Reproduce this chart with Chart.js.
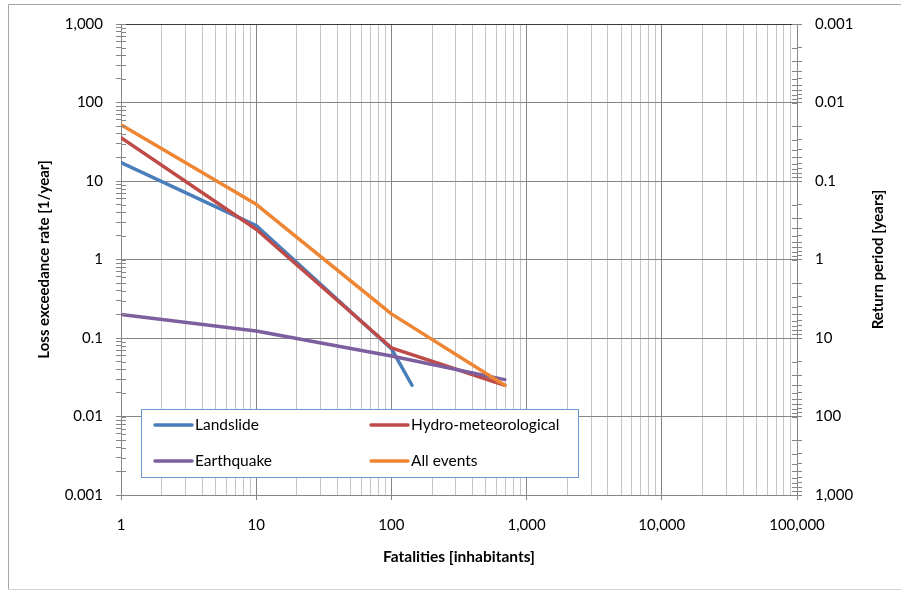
<!DOCTYPE html>
<html>
<head>
<meta charset="utf-8">
<script src="https://cdn.jsdelivr.net/npm/chart.js@4/dist/chart.umd.min.js"></script>
<style>
  body { margin: 0; background: #fff; }
  canvas { display: block; }
</style>
</head>
<body>
<canvas id="myChart" width="901" height="591"></canvas>
<script>
// Fatalities (x) and loss exceedance rate (y) for each curve
var landslideX = [1, 10, 100, 142];
var landslideRate = [17.2, 2.7, 0.073, 0.025];

var hydroX = [1, 10, 100, 690];
var hydroRate = [35.7, 2.43, 0.075, 0.025];

var quakeX = [1, 10, 100, 690];
var quakeRate = [0.2, 0.123, 0.059, 0.0295];

var allX = [1, 10, 100, 690];
var allRate = [52, 5.05, 0.203, 0.025];

// axis tick values and their labels
var fatalityTicks = [1, 10, 100, 1000, 10000, 100000];
var fatalityLabels = ['1', '10', '100', '1,000', '10,000', '100,000'];
var rateTicks = [0.001, 0.01, 0.1, 1, 10, 100, 1000];
var rateLabels = ['0.001', '0.01', '0.1', '1', '10', '100', '1,000'];
var periodLabels = ['0.001', '0.01', '0.1', '1', '10', '100', '1,000']; // 1/rate, same values

var FONT = 'Lato, "Open Sans", sans-serif';
var AXIS = '#868686';
var GRID_MAJOR = '#858585';
var GRID_MINOR = '#c4c4c4';

function pts(xs, ys) {
  var out = [];
  for (var i = 0; i < xs.length; i++) out.push({ x: xs[i], y: ys[i] });
  return out;
}

// majors plus the 2..9 steps inside every decade
function allTicks(majors) {
  var list = [];
  for (var i = 0; i < majors.length; i++) {
    list.push(majors[i]);
    if (i < majors.length - 1) {
      for (var m = 2; m <= 9; m++) list.push(parseFloat((majors[i] * m).toPrecision(6)));
    }
  }
  return list;
}

function setTicks(majors) {
  return function (scale) {
    scale.ticks = allTicks(majors).map(function (v) {
      return { value: v, major: majors.indexOf(v) >= 0 };
    });
  };
}

function labelFor(majors, labels) {
  return function (value) {
    var k = majors.indexOf(value);
    return k >= 0 ? labels[k] : '';
  };
}

// white page with the thin frame round the chart
var framePlugin = {
  id: 'frame',
  beforeDraw: function (chart) {
    var c = chart.ctx;
    c.save();
    c.fillStyle = '#fff';
    c.fillRect(0, 0, chart.width, chart.height);
    c.strokeStyle = '#a6a6a6';
    c.lineWidth = 1;
    c.beginPath();
    c.moveTo(8.5, 589.5);
    c.lineTo(8.5, 4.5);
    c.lineTo(chart.width, 4.5);
    c.stroke();
    c.strokeStyle = '#d4d4d4';
    c.beginPath();
    c.moveTo(8.5, 589.5);
    c.lineTo(chart.width, 589.5);
    c.stroke();
    c.restore();
  }
};

// tick marks cross the vertical axes, draw the inner halves too
var innerTicksPlugin = {
  id: 'innerTicks',
  afterDatasetsDraw: function (chart) {
    var c = chart.ctx;
    c.save();
    c.strokeStyle = AXIS;
    c.lineWidth = 1;
    ['y', 'y2'].forEach(function (id) {
      var s = chart.scales[id];
      var x0 = id === 'y' ? chart.chartArea.left : chart.chartArea.right;
      var dir = id === 'y' ? 1 : -1;
      s.ticks.forEach(function (t) {
        var py = Math.round(s.getPixelForValue(t.value)) + 0.5;
        c.beginPath();
        c.moveTo(x0, py);
        c.lineTo(x0 + dir * 5, py);
        c.stroke();
      });
    });
    c.restore();
  }
};

// right title reads bottom to top like the left one
var rightTitlePlugin = {
  id: 'rightTitle',
  afterDraw: function (chart) {
    var a = chart.chartArea;
    var c = chart.ctx;
    c.save();
    c.translate(878, (a.top + a.bottom) / 2);
    c.rotate(-Math.PI / 2);
    c.font = 'bold 15px ' + FONT;
    c.fillStyle = '#000';
    c.textAlign = 'center';
    c.textBaseline = 'middle';
    c.fillText('Return period [years]', 0, 0);
    c.restore();
  }
};

// boxed legend sitting inside the plot, two columns
var boxLegendPlugin = {
  id: 'boxLegend',
  afterDraw: function (chart) {
    var c = chart.ctx;
    var sets = chart.data.datasets;
    var left = 141.5, top = 409.5, w = 437, h = 68;
    c.save();
    c.fillStyle = '#fff';
    c.fillRect(left, top, w, h);
    c.strokeStyle = '#6f97cf';
    c.lineWidth = 1;
    c.strokeRect(left, top, w, h);
    c.font = '15.5px ' + FONT;
    c.textBaseline = 'middle';
    c.fillStyle = '#000';
    var cols = [155, 371];
    var rows = [425, 461];
    for (var i = 0; i < sets.length; i++) {
      var cx = cols[i % 2], cy = rows[Math.floor(i / 2)];
      c.strokeStyle = sets[i].borderColor;
      c.lineWidth = 3.5;
      c.lineCap = 'round';
      c.beginPath();
      c.moveTo(cx, cy);
      c.lineTo(cx + 37, cy);
      c.stroke();
      c.fillText(sets[i].label, cx + 40, cy);
    }
    c.restore();
  }
};

var ctx = document.getElementById('myChart');

new Chart(ctx, {
  type: 'line',
  data: {
    datasets: [
      { label: 'Landslide', data: pts(landslideX, landslideRate), borderColor: '#4a7ebb', order: 4 },
      { label: 'Hydro-meteorological', data: pts(hydroX, hydroRate), borderColor: '#be4b48', order: 3 },
      { label: 'Earthquake', data: pts(quakeX, quakeRate), borderColor: '#7d5f9f', order: 2 },
      { label: 'All events', data: pts(allX, allRate), borderColor: '#ee8532', order: 1 }
    ]
  },
  options: {
    responsive: false,
    animation: false,
    layout: { padding: { top: 24, left: 0, right: 0, bottom: 0 } },
    elements: {
      line: { borderWidth: 3.5, tension: 0, fill: false, borderCapStyle: 'round', borderJoinStyle: 'round' },
      point: { radius: 0, hoverRadius: 0 }
    },
    plugins: {
      legend: { display: false },
      tooltip: { enabled: false }
    },
    scales: {
      x: {
        type: 'logarithmic',
        min: 1,
        max: 100000,
        afterBuildTicks: setTicks(fatalityTicks),
        afterFit: function (s) { s.height = 96; },
        border: { color: AXIS },
        grid: {
          color: function (c) { return c.tick && c.tick.major ? GRID_MAJOR : GRID_MINOR; },
          tickColor: function (c) { return c.tick && c.tick.major ? AXIS : 'rgba(0,0,0,0)'; },
          tickLength: 5
        },
        ticks: {
          autoSkip: false,
          maxRotation: 0,
          padding: 16,
          color: '#000',
          font: { family: FONT, size: 15 },
          callback: labelFor(fatalityTicks, fatalityLabels)
        },
        title: {
          display: true,
          text: 'Fatalities [inhabitants]',
          color: '#000',
          font: { family: FONT, size: 15.5, weight: 'bold' },
          padding: { top: 0, bottom: 25 }
        }
      },
      y: {
        type: 'logarithmic',
        position: 'left',
        min: 0.001,
        max: 1000,
        afterBuildTicks: setTicks(rateTicks),
        afterFit: function (s) { s.width = 121; },
        border: { color: AXIS },
        grid: {
          color: function (c) {
            if (!c.tick || !c.tick.major) return 'rgba(0,0,0,0)';
            return c.tick.value === 1000 ? '#3a3a3a' : GRID_MAJOR;
          },
          tickColor: AXIS,
          tickLength: 5
        },
        ticks: {
          autoSkip: false,
          padding: 13,
          color: '#000',
          font: { family: FONT, size: 15 },
          callback: labelFor(rateTicks, rateLabels)
        },
        title: {
          display: true,
          text: 'Loss exceedance rate [1/year]',
          color: '#000',
          font: { family: FONT, size: 15, weight: 'bold' },
          padding: { top: 35, bottom: 0 }
        }
      },
      y2: {
        type: 'logarithmic',
        position: 'right',
        reverse: true,
        min: 0.001,
        max: 1000,
        afterBuildTicks: setTicks(rateTicks),
        afterFit: function (s) { s.width = 104; },
        border: { color: AXIS },
        grid: { drawOnChartArea: false, tickColor: AXIS, tickLength: 5 },
        ticks: {
          autoSkip: false,
          padding: 13,
          color: '#000',
          font: { family: FONT, size: 15 },
          callback: labelFor(rateTicks, periodLabels)
        }
      }
    }
  },
  plugins: [framePlugin, innerTicksPlugin, rightTitlePlugin, boxLegendPlugin]
});
</script>
</body>
</html>
